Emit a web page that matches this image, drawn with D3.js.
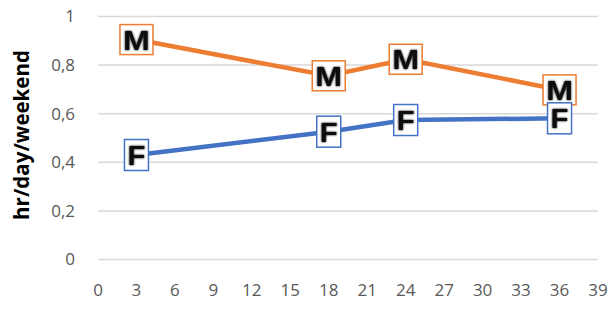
<!DOCTYPE html>
<html lang="en">
<head>
  <meta charset="UTF-8">
  <title>hr/day/weekend</title>
  <script src="https://d3js.org/d3.v7.min.js"></script>
  <style>
    body { margin: 0; background: #fff; }
    svg text { font-family: "Open Sans", "Liberation Sans", sans-serif; }
  </style>
</head>
<body>
  <div id="chart"></div>
  <script>
    // data
    const ages = [3, 18, 24, 36];
    const maleValues = [0.905, 0.756, 0.824, 0.698];
    const femaleValues = [0.43, 0.526, 0.574, 0.581];
    const xTicks = [0, 3, 6, 9, 12, 15, 18, 21, 24, 27, 30, 33, 36, 39];
    const yTicks = [0, 0.2, 0.4, 0.6, 0.8, 1];

    const width = 611, height = 309;
    const margin = { top: 16.5, right: 13, bottom: 49.5, left: 98 };

    const svg = d3.select("#chart").append("svg")
      .attr("width", width)
      .attr("height", height);

    const x = d3.scaleLinear().domain([0, 39]).range([margin.left, width - margin.right]);
    const y = d3.scaleLinear().domain([0, 1]).range([height - margin.bottom, margin.top]);

    // gridlines
    svg.selectAll("line.grid")
      .data(yTicks)
      .join("line")
      .attr("class", "grid")
      .attr("x1", x(0)).attr("x2", x(39))
      .attr("y1", d => y(d)).attr("y2", d => y(d))
      .attr("stroke", "#d9d9d9")
      .attr("stroke-width", 1.5);

    // y tick labels (comma decimals)
    const fmt = d => String(d).replace(".", ",");
    svg.selectAll("text.ytick")
      .data(yTicks)
      .join("text")
      .attr("class", "ytick")
      .attr("x", 75)
      .attr("y", d => y(d))
      .attr("dy", "0.35em")
      .attr("text-anchor", "end")
      .attr("fill", "#595959")
      .attr("font-size", 17)
      .text(fmt);

    // x tick labels
    svg.selectAll("text.xtick")
      .data(xTicks)
      .join("text")
      .attr("class", "xtick")
      .attr("x", d => x(d))
      .attr("y", 296)
      .attr("text-anchor", "middle")
      .attr("fill", "#595959")
      .attr("font-size", 17)
      .text(d => d);

    // axis title
    svg.append("text")
      .attr("transform", "translate(29, 135) rotate(-90)")
      .attr("text-anchor", "middle")
      .attr("font-size", 20.5)
      .attr("font-weight", "bold")
      .attr("fill", "#000")
      .text("hr/day/weekend");

    const line = d3.line().x(d => x(d[0])).y(d => y(d[1]));

    const series = [
      { name: "M", values: maleValues, color: "#ED7D31", bw: 33, bh: 30, sx: 1.15 },
      { name: "F", values: femaleValues, color: "#4472C4", bw: 24, bh: 31, sx: 1.05 }
    ];

    // soft blur to mimic the fuzzy letter labels
    const defs = svg.append("defs");
    const filt = defs.append("filter").attr("id", "soft")
      .attr("x", -0.3).attr("y", -0.3).attr("width", 1.6).attr("height", 1.6);
    filt.append("feGaussianBlur").attr("in", "SourceGraphic").attr("stdDeviation", 1.1).attr("result", "b");
    const merge = filt.append("feMerge");
    merge.append("feMergeNode").attr("in", "b");
    merge.append("feMergeNode").attr("in", "SourceGraphic");

    series.forEach(s => {
      const pts = ages.map((a, i) => [a, s.values[i]]);
      svg.append("path")
        .datum(pts)
        .attr("d", line)
        .attr("fill", "none")
        .attr("stroke", s.color)
        .attr("stroke-width", 4.5);

      const g = svg.selectAll(null)
        .data(pts)
        .join("g")
        .attr("transform", d => `translate(${x(d[0])},${y(d[1])})`);
      g.append("rect")
        .attr("x", -s.bw / 2).attr("y", -s.bh / 2)
        .attr("width", s.bw).attr("height", s.bh)
        .attr("fill", "#fff")
        .attr("stroke", s.color)
        .attr("stroke-width", 1.5);
      g.append("text")
        .attr("transform", `scale(${s.sx},1)`)
        .attr("text-anchor", "middle")
        .attr("dy", "0.36em")
        .attr("font-size", 28)
        .attr("font-weight", "bold")
        .attr("fill", "#111")
        .attr("filter", "url(#soft)")
        .style("font-family", "'Liberation Sans', Arial, sans-serif")
        .text(s.name);
    });
  </script>
</body>
</html>
